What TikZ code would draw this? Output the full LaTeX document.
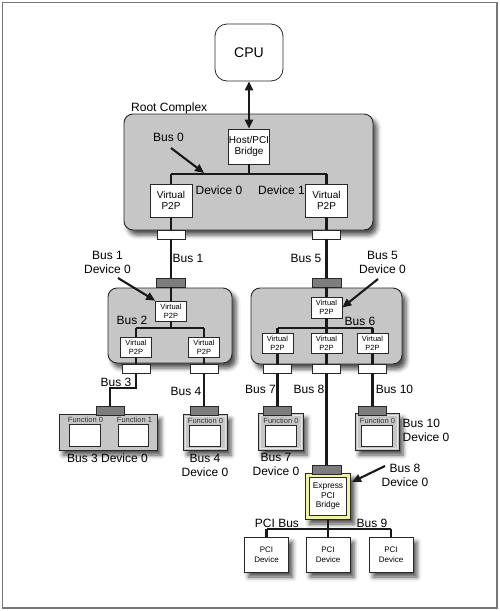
\documentclass[tikz,border=0pt]{standalone}
\usepackage{fontspec}
\setmainfont{Liberation Sans}
\usetikzlibrary{arrows.meta,shadows.blur}
\definecolor{boxgray}{RGB}{198,198,198}
\definecolor{portgray}{RGB}{125,125,125}
\definecolor{edgec}{RGB}{40,40,40}
\definecolor{bridgeyellow}{RGB}{242,242,165}
\definecolor{framegray}{RGB}{120,120,120}
\begin{document}
\begin{tikzpicture}[x=1pt,y=-1pt,
 lbl/.style={font=\fontsize{12}{14}\selectfont, inner sep=0pt, align=center, text=black},
 softshadow/.style={blur shadow={shadow xshift=4pt, shadow yshift=-5pt, shadow blur radius=4.5pt, shadow opacity=70}},
 container/.style={draw=edgec, line width=0.9pt, fill=boxgray, rounded corners=9pt, inner sep=0pt, softshadow},
 bigbox/.style={draw=edgec, line width=0.8pt, fill=white, inner sep=0pt, align=center, font=\fontsize{10}{10.5}\selectfont},
 smallbox/.style={draw=edgec, line width=0.7pt, fill=white, inner sep=0pt, align=center, font=\fontsize{7.5}{9}\selectfont, minimum width=31pt, minimum height=20pt},
 portw/.style={draw=edgec, line width=0.7pt, fill=white, minimum width=28pt, minimum height=9pt, inner sep=0pt},
 portg/.style={draw=edgec, line width=0.7pt, fill=portgray, minimum width=29pt, minimum height=9pt, inner sep=0pt},
 devbox/.style={draw=edgec, line width=0.8pt, fill=boxgray, inner sep=0pt, softshadow},
 funlbl/.style={font=\fontsize{7.5}{8}\selectfont, inner sep=0pt, text=black!80},
 slot/.style={draw=edgec, line width=0.7pt, fill=white, inner sep=0pt, minimum width=31pt, minimum height=22pt},
 pcibox/.style={draw=edgec, line width=0.8pt, fill=white, inner sep=0pt, align=center, font=\fontsize{8}{10}\selectfont, minimum width=44pt, minimum height=35pt, softshadow},
 bus/.style={line width=2.1pt, draw=black!90},
 pointer/.style={line width=2.1pt, draw=black!90, -{Triangle[length=9pt,width=8pt]}},
 innerline/.style={draw=white!80!gray, line width=0.6pt},
]
\useasboundingbox (0,0) rectangle (500,611);
% frame
\draw[framegray, line width=1.2pt] (2.5,2.5) rectangle (497,608);

% ---------- containers ----------
\node[container, minimum width=249pt, minimum height=116pt] (root) at (248.5,172) {};
\node[container, minimum width=124pt, minimum height=75pt] (lmid) at (170,325.5) {};
\node[container, minimum width=151pt, minimum height=76pt] (rmid) at (326.5,326) {};

% ---------- CPU and root complex ----------
\node[bigbox, rounded corners=12pt, minimum width=68pt, minimum height=57pt, font=\fontsize{14}{16}\selectfont] (cpu) at (249,52.5) {CPU};
\node[lbl, anchor=west] (rclbl) at (131,108) {Root Complex};
\node[bigbox, minimum width=41pt, minimum height=35pt] (host) at (249,146.5) {Host/PCI\\Bridge};
\node[bigbox, minimum width=42pt, minimum height=33pt] (vl) at (171,200.5) {Virtual\\P2P};
\node[bigbox, minimum width=42pt, minimum height=33pt] (vr) at (326.5,200.5) {Virtual\\P2P};
\node[portw] (pl0) at (171,234.5) {};
\node[portw] (pr0) at (326.5,234.5) {};

\draw[{Triangle[length=9pt,width=8pt]}-{Triangle[length=9pt,width=8pt]}, line width=2.1pt, draw=black!90] (cpu.south) -- (host.north);

\coordinate (b0l) at (171,174);
\coordinate (b0r) at (326.5,174);
\draw[bus] (host.south) -- (host.south |- b0l);
\draw[bus] (b0l) -- (b0r);
\draw[bus] (b0l) -- (vl.north);
\draw[bus] (b0r) -- (vr.north);
\draw[bus] (vl.south) -- (pl0.north);
\draw[bus] (vr.south) -- (pr0.north);

\node[lbl] (bus0) at (168.5,137) {Bus 0};
\coordinate (bus0tip) at (204,173);
\draw[pointer] (171,148) -- (bus0tip);
\node[lbl] (dev0) at (219,190) {Device 0};
\node[lbl] (dev1) at (281.5,190) {Device 1};

% ---------- left middle ----------
\node[portg] (gp1) at (171,282.5) {};
\node[smallbox] (ltv) at (171,311) {Virtual\\P2P};
\node[smallbox] (lv1) at (136,347) {Virtual\\P2P};
\node[smallbox] (lv2) at (204,347) {Virtual\\P2P};
\node[portw] (pl1) at (136,368.5) {};
\node[portw] (pl2) at (204,368.5) {};
\draw[bus] (pl0.south) -- (gp1.north);
\draw[bus] (gp1.south) -- (ltv.north);
\coordinate (b2l) at (136,328);
\coordinate (b2r) at (204,328);
\draw[bus] (ltv.south) -- (ltv.south |- b2l);
\draw[bus] (b2l) -- (b2r);
\draw[bus] (b2l) -- (lv1.north);
\draw[bus] (b2r) -- (lv2.north);
\draw[bus] (lv1.south) -- (pl1.north);
\draw[bus] (lv2.south) -- (pl2.north);

\node[lbl] (bus1r) at (188,258) {Bus 1};
\node[lbl] (bus1d) at (107.5,262.5) {Bus 1\\Device 0};
\draw[pointer] (118,278) -- (ltv.north west);
\node[lbl] (bus2) at (132,320) {Bus 2};

% ---------- right middle ----------
\node[portg] (gp5) at (326.5,282.5) {};
\node[smallbox, minimum height=21pt] (rtv) at (326.5,307.5) {Virtual\\P2P};
\node[smallbox] (rv1) at (277.5,343.5) {Virtual\\P2P};
\node[smallbox] (rv2) at (326.5,343.5) {Virtual\\P2P};
\node[smallbox] (rv3) at (372.5,343.5) {Virtual\\P2P};
\node[portw] (pr1) at (277.5,368.5) {};
\node[portw] (pr2) at (326.5,368.5) {};
\node[portw] (pr3) at (372.5,368.5) {};
\draw[bus] (pr0.south) -- (gp5.north);
\draw[bus] (gp5.south) -- (rtv.north);
\coordinate (b6l) at (277.5,328);
\coordinate (b6r) at (372.5,328);
\draw[bus] (rtv.south) -- (rtv.south |- b6l);
\draw[bus] (b6l) -- (b6r);
\draw[bus] (b6l) -- (rv1.north);
\draw[bus] (rtv.south |- b6l) -- (rv2.north);
\draw[bus] (b6r) -- (rv3.north);
\draw[bus] (rv1.south) -- (pr1.north);
\draw[bus] (rv2.south) -- (pr2.north);
\draw[bus] (rv3.south) -- (pr3.north);

\node[lbl] (bus5l) at (306,258) {Bus 5};
\node[lbl] (bus5d) at (382.5,262.5) {Bus 5\\Device 0};
\draw[pointer] (378,279) -- (rtv.east);
\node[lbl] (bus6) at (360,321.5) {Bus 6};

% ---------- bottom left devices ----------
\node[devbox, minimum width=98pt, minimum height=36pt] (d3) at (108,432) {};
\node[portg, minimum width=28pt] (gp3) at (110,410.5) {};
\node[funlbl] (f30) at (85.5,420) {Function 0};
\node[funlbl] (f31) at (134.5,420) {Function 1};
\node[slot] (s30) at (84.5,435) {};
\node[slot, minimum width=30pt] (s31) at (133,435) {};
\coordinate (b3j) at (110,388);
\draw[bus] (pl1.south) |- (b3j) -- (gp3.north);
\node[lbl] (bus3) at (116,382) {Bus 3};
\node[lbl] (bus3d) at (107.5,458) {Bus 3 Device 0};

\node[devbox, minimum width=44pt, minimum height=36pt] (d4) at (205,432) {};
\draw[innerline] ([shift={(2.5,2.5)}]d4.north west) rectangle ([shift={(-2.5,-2.5)}]d4.south east);
\node[portg, minimum width=28pt] (gp4) at (204,410.5) {};
\node[funlbl] (f40) at (205.5,420.5) {Function 0};
\node[slot, minimum height=21pt] (s40) at (204.5,435.5) {};
\draw[bus] (pl2.south) -- (gp4.north);
\node[lbl] (bus4) at (186,391) {Bus 4};
\node[lbl] (bus4d) at (205,465) {Bus 4\\Device 0};

% ---------- bottom right devices ----------
\node[devbox, minimum width=45pt, minimum height=37pt] (d7) at (280.5,431.5) {};
\draw[innerline] ([shift={(2.5,2.5)}]d7.north west) rectangle ([shift={(-2.5,-2.5)}]d7.south east);
\node[portg, minimum width=28pt] (gp7) at (277.5,410.5) {};
\node[funlbl] (f70) at (281,420.5) {Function 0};
\node[slot, minimum height=21pt] (s70) at (280.5,435.5) {};
\draw[bus] (pr1.south) -- (gp7.north);
\node[lbl] (bus7) at (260.5,389) {Bus 7};
\node[lbl] (bus7d) at (276,464.5) {Bus 7\\Device 0};

\node[devbox, minimum width=44pt, minimum height=37pt] (d10) at (377,431.5) {};
\draw[innerline] ([shift={(2.5,2.5)}]d10.north west) rectangle ([shift={(-2.5,-2.5)}]d10.south east);
\node[portg, minimum width=28pt] (gp10) at (372.5,410.5) {};
\node[funlbl] (f100) at (377.5,420.5) {Function 0};
\node[slot, minimum height=21pt] (s100) at (377,435.5) {};
\draw[bus] (pr3.south) -- (gp10.north);
\node[lbl] (bus10) at (394.5,389) {Bus 10};
\node[lbl, align=left, anchor=west] (bus10d) at (402.5,430) {Bus 10\\Device 0};

\node[lbl] (bus8) at (309,389) {Bus 8};

% ---------- express bridge ----------
\node[draw=edgec, line width=0.8pt, fill=bridgeyellow, minimum width=45pt, minimum height=46pt, inner sep=0pt, softshadow] (bridge) at (328,496) {};
\node[draw=edgec, line width=0.8pt, fill=white, minimum width=37pt, minimum height=38pt, inner sep=0pt, align=center, font=\fontsize{8.4}{9.6}\selectfont] (bridgein) at (328,496) {Express\\PCI\\Bridge};
\node[portg] (gp8) at (327,469.5) {};
\draw[bus] (pr2.south) -- (pr2.south |- gp8.north);
\node[lbl] (bus8d) at (405,475) {Bus 8\\Device 0};
\draw[pointer] (385,466) -- (352,482);

% ---------- PCI bus ----------
\node[pcibox] (pci1) at (266.5,554.5) {PCI\\Device};
\node[pcibox] (pci2) at (328,554.5) {PCI\\Device};
\node[pcibox] (pci3) at (391,554.5) {PCI\\Device};
\coordinate (b9l) at (266.5,529);
\coordinate (b9r) at (391,529);
\draw[bus] (bridge.south) -- (bridge.south |- b9l);
\draw[bus] (b9l) -- (b9r);
\draw[bus] (b9l) -- (pci1.north);
\draw[bus] (bridge.south |- b9l) -- (pci2.north);
\draw[bus] (b9r) -- (pci3.north);
\node[lbl] (pcibus) at (277,523) {PCI Bus};
\node[lbl] (bus9) at (372,523) {Bus 9};
\end{tikzpicture}
\end{document}
